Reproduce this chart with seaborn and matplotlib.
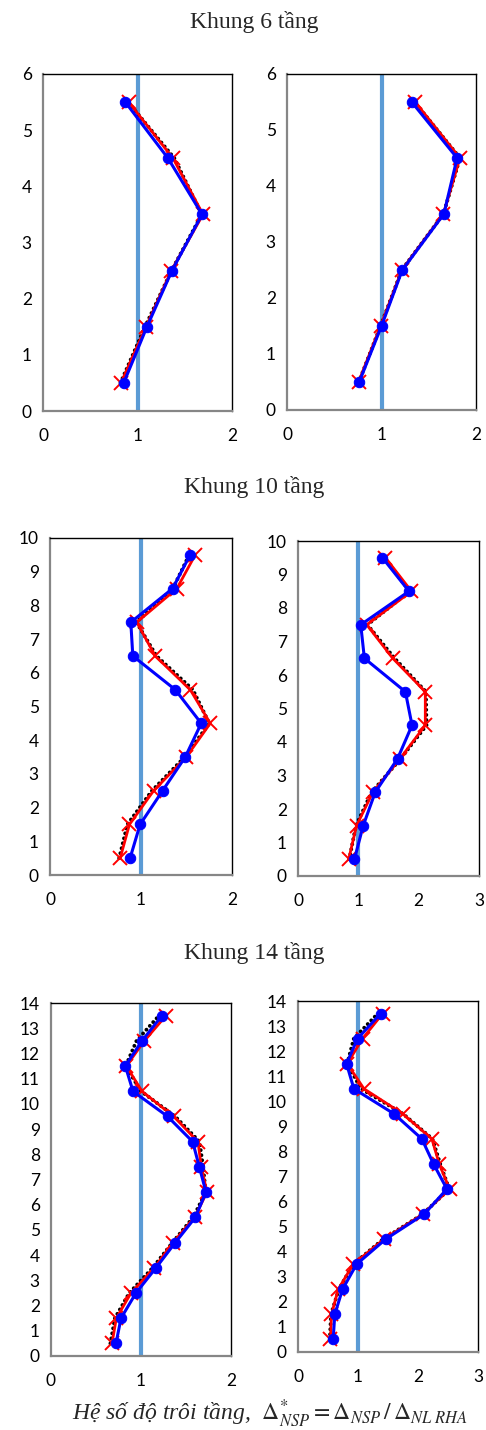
import matplotlib
matplotlib.use("Agg")
import matplotlib.pyplot as plt
import seaborn as sns

# story levels (mid-height of each storey)
levels_6 = [0.5, 1.5, 2.5, 3.5, 4.5, 5.5]
levels_10 = [0.5, 1.5, 2.5, 3.5, 4.5, 5.5, 6.5, 7.5, 8.5, 9.5]
levels_14 = [0.5, 1.5, 2.5, 3.5, 4.5, 5.5, 6.5, 7.5, 8.5, 9.5, 10.5, 11.5, 12.5, 13.5]

# Khung 6 tang - left / right
black_6a = [0.82, 1.08, 1.36, 1.68, 1.39, 0.90]
red_6a = [0.825, 1.09, 1.358, 1.693, 1.376, 0.906]
blue_6a = [0.854, 1.10, 1.365, 1.683, 1.323, 0.871]

black_6b = [0.76, 0.99, 1.215, 1.655, 1.83, 1.35]
red_6b = [0.757, 0.99, 1.215, 1.655, 1.83, 1.356]
blue_6b = [0.764, 1.00, 1.22, 1.66, 1.80, 1.32]

# Khung 10 tang
black_10a = [0.76, 0.85, 1.12, 1.48, 1.75, 1.57, 1.17, 0.95, 1.35, 1.53]
red_10a = [0.771, 0.873, 1.138, 1.497, 1.761, 1.541, 1.156, 0.954, 1.394, 1.596]
blue_10a = [0.88, 0.99, 1.237, 1.486, 1.662, 1.376, 0.91, 0.888, 1.347, 1.54]

black_10b = [0.85, 0.96, 1.22, 1.70, 2.13, 2.12, 1.60, 1.15, 1.85, 1.43]
red_10b = [0.84, 0.97, 1.24, 1.69, 2.11, 2.11, 1.57, 1.14, 1.88, 1.45]
blue_10b = [0.935, 1.08, 1.28, 1.65, 1.89, 1.78, 1.10, 1.04, 1.84, 1.40]

# Khung 14 tang
black_14a = [0.66, 0.71, 0.87, 1.13, 1.35, 1.58, 1.72, 1.69, 1.65, 1.38,
             1.00, 0.83, 0.95, 1.20]
red_14a = [0.678, 0.726, 0.889, 1.148, 1.356, 1.596, 1.733, 1.67, 1.633, 1.363,
           1.011, 0.837, 1.037, 1.278]
blue_14a = [0.722, 0.778, 0.944, 1.167, 1.381, 1.604, 1.722, 1.648, 1.574, 1.296,
            0.911, 0.826, 1.011, 1.233]

black_14b = [0.53, 0.55, 0.68, 0.92, 1.42, 2.08, 2.52, 2.37, 2.24, 1.75,
             1.05, 0.82, 0.93, 1.33]
red_14b = [0.541, 0.558, 0.67, 0.92, 1.433, 2.08, 2.527, 2.354, 2.231, 1.746,
           1.099, 0.82, 1.076, 1.411]
blue_14b = [0.586, 0.613, 0.742, 0.976, 1.461, 2.103, 2.482, 2.259, 2.064, 1.60,
            0.931, 0.809, 0.993, 1.378]

titles = ["Khung 6 tầng", "Khung 10 tầng", "Khung 14 tầng"]

sns.set_style("white")
plt.rcParams["font.family"] = ["Lato", "DejaVu Sans"]
plt.rcParams["mathtext.fontset"] = "stix"

W, H = 486, 1430
fig = plt.figure(figsize=(W / 100, H / 100), dpi=100)


def box(l, r, t, b):
    return [l / W, 1 - b / H, (r - l) / W, (b - t) / H]


def draw_panel(rect, levels, black, red, blue, xmax, ymax):
    ax = fig.add_axes(rect)
    ax.axvline(1, color="#5B9BD5", lw=3, zorder=1)
    sns.lineplot(x=black, y=levels, sort=False, estimator=None, ax=ax,
                 color="black", lw=2.8, linestyle=(0, (0.01, 1.3)),
                 dash_capstyle="round", zorder=2)
    sns.lineplot(x=red, y=levels, sort=False, estimator=None, ax=ax,
                 color="#FF0000", lw=2, marker="x", markersize=10,
                 markeredgewidth=1.4, markeredgecolor="#FF0000", zorder=3)
    sns.lineplot(x=blue, y=levels, sort=False, estimator=None, ax=ax,
                 color="#0000FF", lw=2.2, marker="o", markersize=7.5,
                 markeredgecolor="#0000FF", zorder=4)
    ax.set_xlim(0, xmax)
    ax.set_ylim(0, ymax)
    ax.set_xticks(range(0, xmax + 1))
    ax.set_yticks(range(0, ymax + 1))
    ax.set_xlabel("")
    ax.set_ylabel("")
    for s in ["left", "bottom"]:
        ax.spines[s].set_color("#868686")
        ax.spines[s].set_linewidth(1.6)
    for s in ["top", "right"]:
        ax.spines[s].set_color("black")
        ax.spines[s].set_linewidth(1.0)
    ax.tick_params(axis="both", which="major", direction="out", length=4,
                   width=1, color="#868686", labelsize=12.5, labelcolor="black")
    ax.tick_params(axis="x", pad=8)
    ax.tick_params(axis="y", pad=4)
    ax.grid(False)
    return ax


draw_panel(box(43, 232, 74, 411), levels_6, black_6a, red_6a, blue_6a, 2, 6)
draw_panel(box(287, 476, 74, 410), levels_6, black_6b, red_6b, blue_6b, 2, 6)
draw_panel(box(50, 232, 538, 875), levels_10, black_10a, red_10a, blue_10a, 2, 10)
draw_panel(box(298, 479, 541, 876), levels_10, black_10b, red_10b, blue_10b, 3, 10)
draw_panel(box(51, 231, 1003, 1356), levels_14, black_14a, red_14a, blue_14a, 2, 14)
draw_panel(box(298, 478, 1001, 1352), levels_14, black_14b, red_14b, blue_14b, 3, 14)

serif = ["Liberation Serif", "DejaVu Serif"]
for title, y in zip(titles, [22, 487, 953]):
    fig.text(254 / W, 1 - y / H, title, ha="center", va="center",
             fontsize=17, family=serif)

fig.text(270 / W, 1 - 1414 / H,
         r"Hệ số độ trôi tầng,  $\Delta^{*}_{NSP} = \Delta_{NSP}\,/\,\Delta_{NL\ RHA}$",
         ha="center", va="center", fontsize=17, family=serif, style="italic")

fig.savefig("out.png", dpi=100)
